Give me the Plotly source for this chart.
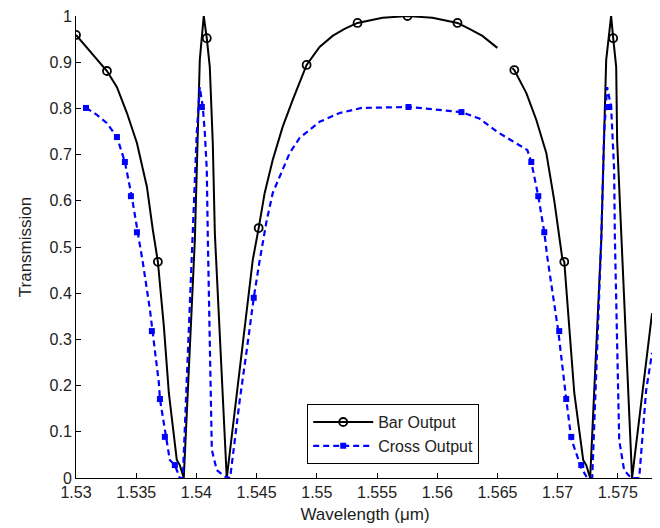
import plotly.graph_objects as go

# ---- data ----
bar_wl = [1.5300, 1.53257, 1.53340, 1.53423, 1.53506, 1.53589, 1.53638, 1.53680, 1.53730,
          1.53771, 1.53837, 1.53862, 1.53895, 1.53987, 1.54028, 1.54061, 1.54086, 1.54111,
          1.54136, 1.54153, 1.54252, 1.54468, 1.54517, 1.54567, 1.54633, 1.54716, 1.54799,
          1.54915, 1.55023, 1.55131, 1.55230, 1.55338, 1.55546, 1.55753, 1.55960, 1.56168,
          1.56267, 1.56375, 1.56499,
          None,
          1.56624, 1.56640, 1.56740, 1.56823, 1.56906, 1.56972, 1.57038, 1.57055, 1.57096,
          1.57138, 1.57212, 1.57237, 1.57270, 1.57362, 1.57403, 1.57444, 1.57461, 1.57486,
          1.57494, 1.57527, 1.57618, 1.57784]
bar_tr = [0.959, 0.881, 0.846, 0.790, 0.725, 0.630, 0.537, 0.468, 0.327,
          0.184, 0.039, 0.028, 0.0, 0.515, 0.905, 1.0, 0.952, 0.890,
          0.725, 0.530, 0.0, 0.472, 0.541, 0.617, 0.688, 0.760, 0.818,
          0.894, 0.933, 0.957, 0.972, 0.985, 0.996, 1.0, 0.996, 0.985,
          0.972, 0.957, 0.931,
          None,
          0.887, 0.883, 0.833, 0.775, 0.703, 0.600, 0.476, 0.468, 0.327,
          0.184, 0.039, 0.028, 0.0, 0.515, 0.905, 1.0, 0.952, 0.890,
          0.730, 0.543, 0.0, 0.357]

bar_mk_wl = [1.5300, 1.53257, 1.53680, 1.54086, 1.54517, 1.54915, 1.55338, 1.55753,
             1.56168, 1.56640, 1.57055, 1.57461]
bar_mk_tr = [0.959, 0.881, 0.468, 0.952, 0.541, 0.894, 0.985, 1.0,
             0.985, 0.883, 0.468, 0.952]

cross_wl = [1.53083, 1.53174, 1.53257, 1.53340, 1.53406, 1.53464, 1.53514, 1.53556, 1.53614,
            1.53638, 1.53688, 1.53697, 1.53746, 1.53779, 1.53821, 1.53862, 1.53887, 1.53970,
            1.54003, 1.54028, 1.54053, 1.54070, 1.54086, 1.54095, 1.54128, 1.54169, 1.54236,
            1.54280, 1.54360, 1.54418, 1.54476, 1.54526, 1.54584, 1.54634, 1.54692, 1.54774,
            1.54857, 1.55023, 1.55189, 1.55372, 1.55770, 1.56201, 1.56350, 1.56499, 1.56748,
            1.56781, 1.56839, 1.56889, 1.56914, 1.57005, 1.57071, 1.57113, 1.57196, 1.57246,
            1.57287, 1.57362, 1.57386, 1.57411, 1.57444, 1.57453, 1.57469, 1.57475, 1.57511,
            1.57552, 1.57610, 1.57677, 1.57735, 1.57784]
cross_tr = [0.801, 0.786, 0.768, 0.738, 0.684, 0.608, 0.530, 0.465, 0.364,
            0.316, 0.206, 0.171, 0.087, 0.039, 0.028, 0.0, 0.0, 0.515,
            0.747, 0.846, 0.803, 0.747, 0.667, 0.515, 0.061, 0.017, 0.003,
            0.0, 0.169, 0.277, 0.390, 0.472, 0.558, 0.617, 0.652, 0.703,
            0.736, 0.771, 0.790, 0.801, 0.803, 0.792, 0.778, 0.749, 0.710,
            0.684, 0.610, 0.532, 0.478, 0.318, 0.171, 0.085, 0.022, 0.0,
            0.0, 0.515, 0.747, 0.846, 0.803, 0.747, 0.667, 0.522, 0.082,
            0.017, 0.0, 0.0, 0.190, 0.271]

cross_mk_wl = [1.53083, 1.53340, 1.53406, 1.53456, 1.53506, 1.53630, 1.53697, 1.53738,
               1.53821, 1.54045, 1.54476, 1.55761, 1.56201, 1.56781, 1.56839, 1.56889,
               1.57013, 1.57071, 1.57113, 1.57196, 1.57428]
cross_mk_tr = [0.801, 0.738, 0.684, 0.610, 0.532, 0.318, 0.171, 0.089,
               0.028, 0.803, 0.390, 0.803, 0.792, 0.684, 0.610, 0.532,
               0.318, 0.171, 0.089, 0.028, 0.803]

x_ticks = [1.53, 1.535, 1.54, 1.545, 1.55, 1.555, 1.56, 1.565, 1.57, 1.575]
x_ticktext = ["1.53", "1.535", "1.54", "1.545", "1.55", "1.555", "1.56", "1.565", "1.57", "1.575"]
y_ticks = [0, 0.1, 0.2, 0.3, 0.4, 0.5, 0.6, 0.7, 0.8, 0.9, 1.0]
y_ticktext = ["0", "0.1", "0.2", "0.3", "0.4", "0.5", "0.6", "0.7", "0.8", "0.9", "1"]

BLACK = "#000000"
BLUE = "#0000ff"
TXT = "#222222"
FONT = "Liberation Sans, Arial, sans-serif"

fig = go.Figure()
fig.add_trace(go.Scatter(x=bar_wl, y=bar_tr, mode="lines", connectgaps=False,
                         line=dict(color=BLACK, width=2), showlegend=False, hoverinfo="skip"))
fig.add_trace(go.Scatter(x=bar_mk_wl, y=bar_mk_tr, mode="markers",
                         marker=dict(symbol="circle-open", size=8, color=BLACK, line=dict(width=1.8)),
                         showlegend=False, hoverinfo="skip"))
fig.add_trace(go.Scatter(x=cross_wl, y=cross_tr, mode="lines",
                         line=dict(color=BLUE, width=2.2, dash="6px,4px"), showlegend=False,
                         hoverinfo="skip"))
fig.add_trace(go.Scatter(x=cross_mk_wl, y=cross_mk_tr, mode="markers",
                         marker=dict(symbol="square", size=6, color=BLUE),
                         showlegend=False, hoverinfo="skip"))
# legend entries
fig.add_trace(go.Scatter(x=[None], y=[None], mode="lines+markers", name="Bar Output",
                         line=dict(color=BLACK, width=2),
                         marker=dict(symbol="circle-open", size=8, color=BLACK, line=dict(width=1.8))))
fig.add_trace(go.Scatter(x=[None], y=[None], mode="lines+markers", name="Cross Output",
                         line=dict(color=BLUE, width=2.2, dash="6px,4px"),
                         marker=dict(symbol="square", size=6, color=BLUE)))

axis_common = dict(showgrid=False, zeroline=False, showline=True, linecolor=BLACK, linewidth=1,
                   ticks="inside", ticklen=5, tickcolor=BLACK, tickwidth=1, automargin=False,
                   ticklabeloverflow="allow",
                   tickfont=dict(family=FONT, size=16, color=TXT))

# the page adds an 8px body margin, so the figure is sized 652x520 to fit the 660x528 window
fig.update_layout(
    width=652, height=520,
    margin=dict(l=68, r=6, t=8, b=50),
    paper_bgcolor="white", plot_bgcolor="white",
    font=dict(family=FONT, color=TXT),
    xaxis=dict(range=[1.53, 1.578], tickvals=x_ticks, ticktext=x_ticktext,
               title=dict(text="Wavelength (μm)", font=dict(family=FONT, size=17), standoff=7),
               **axis_common),
    yaxis=dict(range=[0, 1.0], tickvals=y_ticks, ticktext=y_ticktext,
               title=dict(text="Transmission", font=dict(family=FONT, size=17), standoff=13),
               **axis_common),
    legend=dict(x=0.40, y=0.160, xanchor="left", yanchor="top",
                bordercolor=BLACK, borderwidth=1, bgcolor="white",
                font=dict(family=FONT, size=16, color=TXT),
                itemwidth=60, tracegroupgap=0),
    showlegend=True,
)

fig.write_html("out.html")
